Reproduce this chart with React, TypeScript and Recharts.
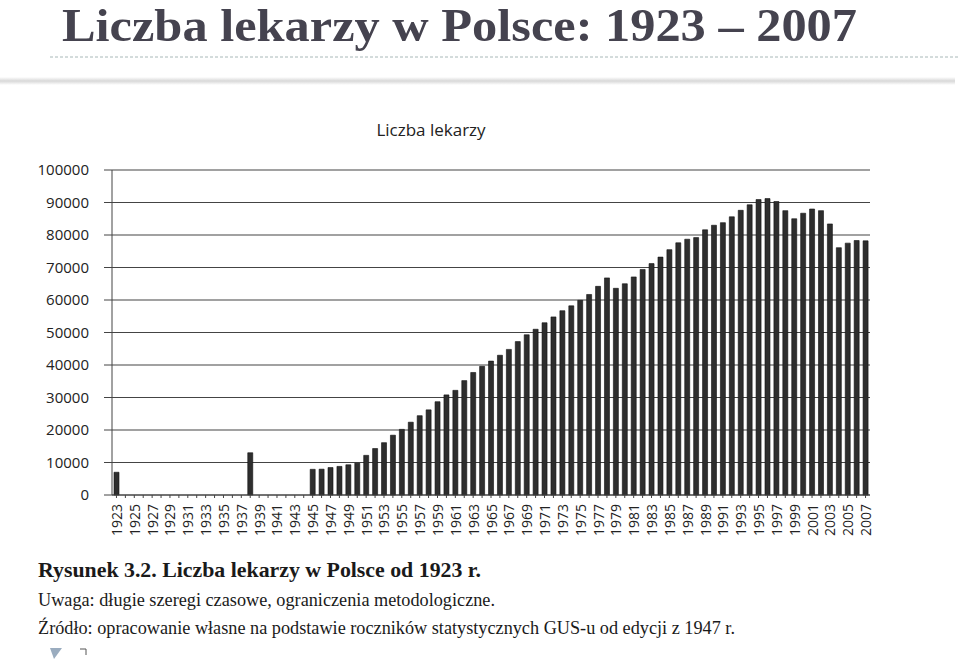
import React from "react"
import { BarChart, Bar, XAxis, YAxis, CartesianGrid } from "recharts"

const years = [
  1923, 1924, 1925, 1926, 1927, 1928, 1929, 1930, 1931, 1932, 1933, 1934, 1935, 1936, 1937,
  1938, 1939, 1940, 1941, 1942, 1943, 1944, 1945, 1946, 1947, 1948, 1949, 1950, 1951, 1952,
  1953, 1954, 1955, 1956, 1957, 1958, 1959, 1960, 1961, 1962, 1963, 1964, 1965, 1966, 1967,
  1968, 1969, 1970, 1971, 1972, 1973, 1974, 1975, 1976, 1977, 1978, 1979, 1980, 1981, 1982,
  1983, 1984, 1985, 1986, 1987, 1988, 1989, 1990, 1991, 1992, 1993, 1994, 1995, 1996, 1997,
  1998, 1999, 2000, 2001, 2002, 2003, 2004, 2005, 2006, 2007,
]

// przedwojenne: tylko 1923 i 1938
const prewar = [
  7000, null, null, null, null, null, null, null, null, null, null, null, null, null, null,
  13000, null, null, null, null, null, null,
]

// 1945 - 2007
const postwar = [
  7900, 7950, 8450, 8800, 9300, 9800, 12200, 14300, 16100, 18400,
  20200, 22400, 24400, 26200, 28700, 30800, 32200, 35200, 37700, 39600,
  41200, 43000, 44800, 47200, 49300, 51000, 53000, 54800, 56700, 58200,
  59900, 61700, 64200, 66800, 63600, 65000, 67100, 69400, 71200, 73200,
  75500, 77600, 78700, 79200, 81600, 83000, 83800, 85600, 87600, 89300,
  90900, 91200, 90300, 87500, 85000, 86700, 88000, 87500, 83400, 76100,
  77500, 78300, 78200,
]

const yTicks = [0, 10000, 20000, 30000, 40000, 50000, 60000, 70000, 80000, 90000, 100000]

const doctors = [...prewar, ...postwar]
const data = years.map((year, i) => ({ year, lekarze: doctors[i] }))

const sans = "'Open Sans', sans-serif"
const serif = "'Liberation Serif', 'Times New Roman', serif"

function YearTick(props: any) {
  const { x, y, index, payload } = props
  if (index % 2 !== 0) return null
  return (
    <text
      x={x}
      y={y + 1}
      transform={`rotate(-90 ${x} ${y + 1})`}
      textAnchor="end"
      dominantBaseline="central"
      fontFamily={sans}
      fontSize={14}
      fill="#222"
    >
      {payload.value}
    </text>
  )
}

export default function App() {
  return (
    <div style={{ position: "absolute", left: 0, top: 0, width: 960, height: 662, background: "#fff", overflow: "hidden" }}>
      <svg width={960} height={662} style={{ position: "absolute", left: 0, top: 0 }}>
        <defs>
          <linearGradient id="shade" x1="0" y1="0" x2="0" y2="1">
            <stop offset="0" stopColor="#ffffff" />
            <stop offset="0.5" stopColor="#d8d8d8" />
            <stop offset="1" stopColor="#ffffff" />
          </linearGradient>
        </defs>
        <text x={62} y={41} fontFamily={serif} fontWeight="bold" fontSize={47} fill="#45434f"
          textLength={795} lengthAdjust="spacingAndGlyphs">
          Liczba lekarzy w Polsce: 1923 – 2007
        </text>
        <line x1={50} y1={57} x2={960} y2={57} stroke="#a8b8b8" strokeWidth={1} strokeDasharray="3 2" />
        <rect x={0} y={77} width={955} height={8} fill="url(#shade)" />

        <text x={431} y={136} textAnchor="middle" fontFamily={sans} fontSize={17} fill="#222">
          Liczba lekarzy
        </text>

        <text x={38} y={577} fontFamily={serif} fontWeight="bold" fontSize={21} fill="#1a1a1a"
          textLength={443} lengthAdjust="spacingAndGlyphs">
          Rysunek 3.2. Liczba lekarzy w Polsce od 1923 r.
        </text>
        <text x={38} y={606} fontFamily={serif} fontSize={18} fill="#1a1a1a"
          textLength={457} lengthAdjust="spacingAndGlyphs">
          Uwaga: długie szeregi czasowe, ograniczenia metodologiczne.
        </text>
        <text x={38} y={634} fontFamily={serif} fontSize={18} fill="#1a1a1a"
          textLength={697} lengthAdjust="spacingAndGlyphs">
          Źródło: opracowanie własne na podstawie roczników statystycznych GUS-u od edycji z 1947 r.
        </text>

        <polygon points="50,648 62,648 54,659" fill="#9aacbf" />
        <path d="M80,649 L86,649 L86,655" stroke="#555" strokeWidth={1} fill="none" />
      </svg>

      <div style={{ position: "absolute", left: 0, top: 0 }}>
        <BarChart
          width={960}
          height={662}
          data={data}
          margin={{ top: 170, right: 90, bottom: 122, left: 32 }}
          barSize={5}
        >
          <CartesianGrid vertical={false} stroke="#444" strokeWidth={1.2} />
          <XAxis
            dataKey="year"
            interval={0}
            height={45}
            tickSize={3}
            tickMargin={5}
            tick={<YearTick />}
            axisLine={{ stroke: "#444" }}
            tickLine={{ stroke: "#444" }}
          />
          <YAxis
            width={80}
            domain={[0, 100000]}
            ticks={yTicks}
            interval={0}
            tickSize={8}
            tickMargin={15}
            axisLine={{ stroke: "#444" }}
            tickLine={{ stroke: "#444" }}
            tick={{ fontFamily: sans, fontSize: 15, fill: "#222" }}
          />
          <YAxis
            yAxisId="frame"
            orientation="right"
            width={0}
            domain={[0, 100000]}
            tick={false}
            tickLine={false}
            axisLine={{ stroke: "#999", strokeWidth: 1.5 }}
          />
          <Bar dataKey="lekarze" fill="#2e2e2e" stroke="#111" strokeWidth={0.6} isAnimationActive={false} />
        </BarChart>
      </div>
    </div>
  )
}
